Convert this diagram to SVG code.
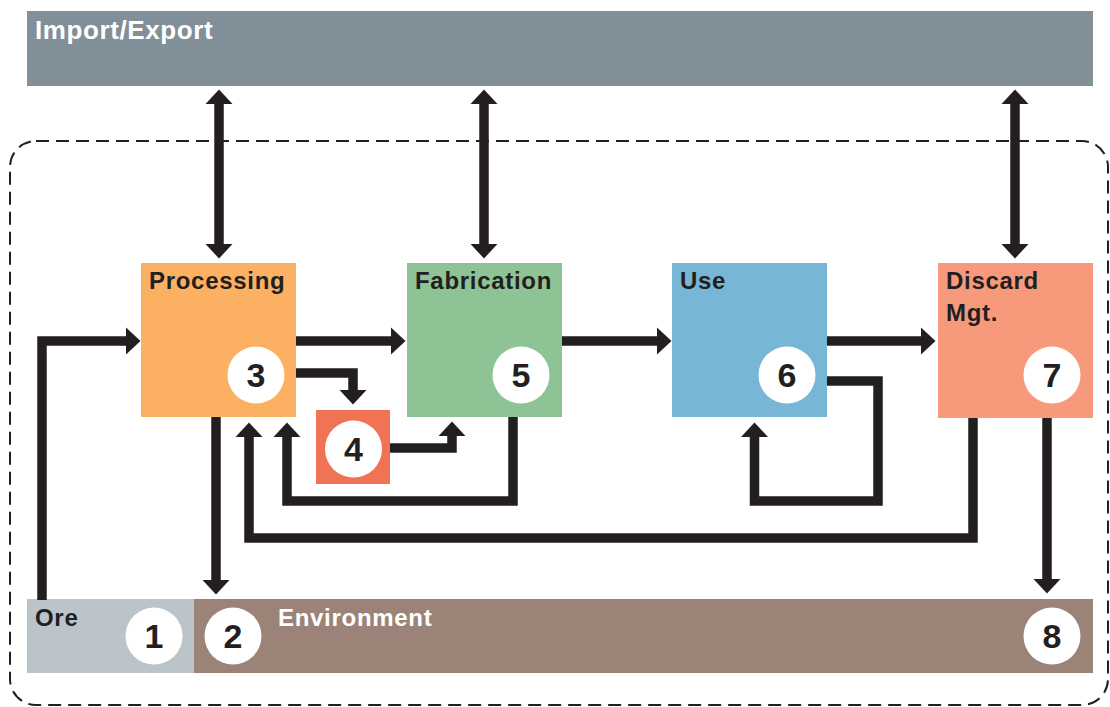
<svg xmlns="http://www.w3.org/2000/svg" width="1110" height="707" viewBox="0 0 1110 707">
<style>
.lbl{font-family:"Liberation Sans",Arial,sans-serif;font-weight:bold;font-size:24px;letter-spacing:0.7px;fill:#231f20}
.big{font-size:26px;letter-spacing:0.6px}
.wht{fill:#ffffff}
.num{font-family:"Liberation Sans",Arial,sans-serif;font-weight:bold;font-size:34px;fill:#231f20;text-anchor:middle}
.circ{fill:#ffffff}
.conn path{fill:none;stroke:#231f20;stroke-width:9.5;stroke-linejoin:miter;stroke-linecap:butt;marker-end:url(#ah)}
.conn path.dbl{marker-start:url(#ah)}
</style>
<defs>
<marker id="ah" markerUnits="userSpaceOnUse" viewBox="0 -14 15 28" refX="0" refY="0" markerWidth="15" markerHeight="28" orient="auto-start-reverse">
<path d="M0,-13.5 L14.5,0 L0,13.5 Z" fill="#231f20"/>
</marker>
</defs>
<rect x="0" y="0" width="1110" height="707" fill="#ffffff"/>
<rect id="boundary" x="10" y="141" width="1098" height="564" rx="26" ry="26" fill="none" stroke="#231f20" stroke-width="2" stroke-dasharray="13 7"/>
<g id="importexport">
<rect x="27" y="11" width="1066" height="75" fill="#818f98"/>
<text class="lbl big wht" x="35" y="39">Import/Export</text>
</g>
<g id="ore">
<rect x="27" y="599" width="167" height="74" fill="#bac4c9"/>
<text class="lbl" x="35" y="626">Ore</text>
<circle class="circ" cx="154" cy="636" r="28.5"/>
<text class="num" x="154" y="648">1</text>
</g>
<g id="environment">
<rect x="194" y="599" width="899" height="74" fill="#9b8477"/>
<text class="lbl wht" x="278" y="626">Environment</text>
<circle class="circ" cx="233" cy="636" r="28.5"/>
<text class="num" x="233" y="648">2</text>
<circle class="circ" cx="1052" cy="636" r="28.5"/>
<text class="num" x="1052" y="648">8</text>
</g>
<g id="processing">
<rect x="141" y="263" width="155" height="154" fill="#fbb062"/>
<text class="lbl" x="149" y="289">Processing</text>
<circle class="circ" cx="256" cy="375" r="28.5"/>
<text class="num" x="256" y="387">3</text>
</g>
<g id="node4">
<rect x="316" y="410" width="74" height="74" fill="#f07356"/>
<circle class="circ" cx="353.5" cy="449" r="28.5"/>
<text class="num" x="353.5" y="461">4</text>
</g>
<g id="fabrication">
<rect x="407" y="263" width="155" height="154" fill="#8ec396"/>
<text class="lbl" x="415" y="289">Fabrication</text>
<circle class="circ" cx="521" cy="375" r="28.5"/>
<text class="num" x="521" y="387">5</text>
</g>
<g id="use">
<rect x="672" y="263" width="155" height="154" fill="#77b6d4"/>
<text class="lbl" x="680" y="289">Use</text>
<circle class="circ" cx="787" cy="375" r="28.5"/>
<text class="num" x="787" y="387">6</text>
</g>
<g id="discard">
<rect x="938" y="263" width="155" height="155" fill="#f79a7c"/>
<text class="lbl" x="946" y="289">Discard</text>
<text class="lbl" x="946" y="321">Mgt.</text>
<circle class="circ" cx="1052" cy="375" r="28.5"/>
<text class="num" x="1052" y="387">7</text>
</g>
<g id="connectors" class="conn">
<path class="dbl" d="M219,104 V244"/>
<path class="dbl" d="M484,104 V244"/>
<path class="dbl" d="M1015,104 V244"/>
<path d="M42,600 V341 H126"/>
<path d="M216,417 V580"/>
<path d="M296,341 H391"/>
<path d="M562,341 H657"/>
<path d="M827,341 H921"/>
<path d="M296,373 H353 V390"/>
<path d="M390,448 H452 V436"/>
<path d="M513,417 V501 H287 V437"/>
<path d="M973,418 V538 H249 V437"/>
<path d="M827,381 H878 V501 H754.5 V437"/>
<path d="M1047,418 V579"/>
</g>
</svg>
